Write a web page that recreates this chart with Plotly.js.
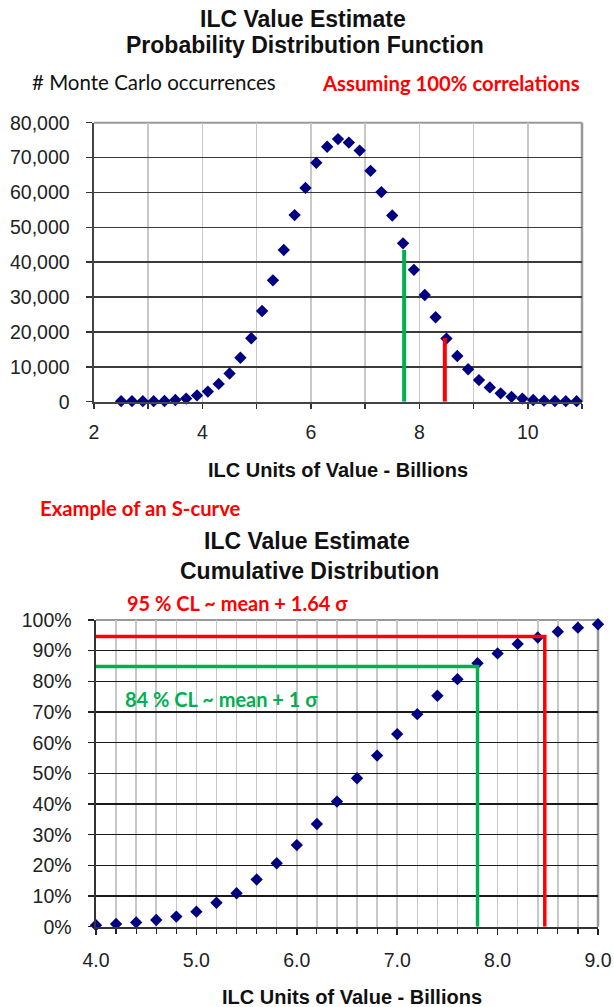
<!DOCTYPE html>
<html>
<head>
<meta charset="utf-8">
<script src="https://cdn.plot.ly/plotly-3.0.1.min.js"></script>
<style>html,body{margin:0;padding:0;background:#fff;}#chart{width:614px;height:1007px;}</style>
</head>
<body>
<div id="chart"></div>
<script>
// ---------- data: Probability Distribution Function ----------
const pdfValues = [2.5, 2.7, 2.9, 3.1, 3.3, 3.5, 3.7, 3.9, 4.1, 4.3, 4.5, 4.7, 4.9, 5.1, 5.3, 5.5, 5.7, 5.9, 6.1, 6.3, 6.5,
                   6.7, 6.9, 7.1, 7.3, 7.5, 7.7, 7.9, 8.1, 8.3, 8.5, 8.7, 8.9, 9.1, 9.3, 9.5, 9.7, 9.9, 10.1, 10.3, 10.5, 10.7, 10.9];
const pdfCounts = [150, 150, 150, 150, 200, 500, 900, 1800, 2900, 5100, 8100, 12600, 18200, 26000, 34800, 43500, 53500, 61300, 68500, 73100, 75300,
                   74300, 72000, 66200, 60100, 53400, 45400, 37800, 30600, 24200, 18100, 13100, 9300, 6200, 4100, 2400, 1400, 900, 500, 300, 200, 150, 150];
const pdfClX = [7.72, 8.47];
const pdfClCounts = [43500, 18300];
const pdfXTickVals = [2, 3, 4, 5, 6, 7, 8, 9, 10, 11];
const pdfXTickText = ["2", "", "4", "", "6", "", "8", "", "10", ""];

// ---------- data: Cumulative Distribution ----------
const cdfValues = [4.0, 4.2, 4.4, 4.6, 4.8, 5.0, 5.2, 5.4, 5.6, 5.8, 6.0, 6.2, 6.4, 6.6, 6.8, 7.0, 7.2, 7.4, 7.6, 7.8, 8.0, 8.2, 8.4, 8.6, 8.8, 9.0];
const cdfPercent = [0.5, 0.9, 1.4, 2.2, 3.3, 4.9, 7.8, 10.9, 15.4, 20.7, 26.6, 33.5, 40.8, 48.4, 55.8, 62.8, 69.3, 75.3, 80.7, 85.9, 89.1, 92.2, 94.3, 96.2, 97.5, 98.6];
const cl84 = {x: 7.8, pct: 84.8};
const cl95 = {x: 8.47, pct: 94.6};
const cdfStartX = 4.0;

// ---------- styling ----------
const navy = '#000080', green = '#00b050', red = '#ff0000';
const arial = 'Liberation Sans, Arial, sans-serif';
const calibri = 'Lato, Carlito, Calibri, sans-serif';
const W = 614, H = 1007;
const px = v => v / W;
const py = v => (H - v) / H;

const traces = [
  {x: pdfValues, y: pdfCounts, xaxis: 'x', yaxis: 'y', type: 'scatter', mode: 'markers',
   marker: {symbol: 'diamond', size: 9.5, color: navy}, cliponaxis: false, hoverinfo: 'x+y'},
  {x: [pdfClX[0], pdfClX[0]], y: [0, pdfClCounts[0]], xaxis: 'x', yaxis: 'y', type: 'scatter', mode: 'lines',
   line: {color: green, width: 4}, hoverinfo: 'skip'},
  {x: [pdfClX[1], pdfClX[1]], y: [0, pdfClCounts[1]], xaxis: 'x', yaxis: 'y', type: 'scatter', mode: 'lines',
   line: {color: red, width: 4}, hoverinfo: 'skip'},
  {x: cdfValues, y: cdfPercent, xaxis: 'x2', yaxis: 'y2', type: 'scatter', mode: 'markers',
   marker: {symbol: 'diamond', size: 9.5, color: navy}, cliponaxis: false, hoverinfo: 'x+y'},
  {x: [cdfStartX, cl84.x, cl84.x], y: [cl84.pct, cl84.pct, 0], xaxis: 'x2', yaxis: 'y2', type: 'scatter', mode: 'lines',
   line: {color: green, width: 3.5}, hoverinfo: 'skip'},
  {x: [cdfStartX, cl95.x, cl95.x], y: [cl95.pct, cl95.pct, 0], xaxis: 'x2', yaxis: 'y2', type: 'scatter', mode: 'lines',
   line: {color: red, width: 3.5}, hoverinfo: 'skip'}
];

const tickFont = {family: arial, size: 19.5, color: '#222'};

const layout = {
  width: W, height: H, margin: {l: 0, r: 0, t: 0, b: 0},
  paper_bgcolor: '#fff', plot_bgcolor: '#fff', showlegend: false,
  xaxis: {domain: [px(94), px(582)], range: [2, 11], anchor: 'y',
    tickmode: 'array', tickvals: pdfXTickVals, ticktext: pdfXTickText,
    ticks: 'outside', ticklen: 5, tickwidth: 1.5, tickcolor: '#333',
    showline: true, linecolor: '#444', linewidth: 2,
    showgrid: true, gridcolor: '#c8c8c8', gridwidth: 1.5, zeroline: false,
    tickfont: tickFont, ticklabelstandoff: 7, fixedrange: true},
  yaxis: {domain: [py(401.7), py(122.7)], range: [0, 80000], anchor: 'x',
    dtick: 10000, tickformat: ',d',
    ticks: 'outside', ticklen: 6, tickwidth: 1.5, tickcolor: '#333',
    showline: true, linecolor: '#444', linewidth: 2.5,
    showgrid: true, gridcolor: '#3a3a3a', gridwidth: 1.5, zeroline: false,
    tickfont: tickFont, ticklabelstandoff: 12, fixedrange: true},
  xaxis2: {domain: [px(96), px(598)], range: [4, 9], anchor: 'y2',
    dtick: 1, tick0: 4, tickformat: '.1f',
    ticks: 'outside', ticklen: 6, tickwidth: 1.5, tickcolor: '#222',
    minor: {dtick: 0.2, ticks: 'outside', ticklen: 5, tickwidth: 1.2, tickcolor: '#222', showgrid: true, gridcolor: '#c8c8c8', gridwidth: 1.5},
    showline: true, linecolor: '#333', linewidth: 2,
    showgrid: true, gridcolor: '#c8c8c8', gridwidth: 1.5, zeroline: false,
    tickfont: tickFont, ticklabelstandoff: 9, fixedrange: true},
  yaxis2: {domain: [py(926.7), py(620)], range: [0, 100], anchor: 'x2',
    dtick: 10, ticksuffix: '%',
    ticks: 'outside', ticklen: 6, tickwidth: 1.5, tickcolor: '#222',
    showline: true, linecolor: '#333', linewidth: 2.5,
    showgrid: true, gridcolor: '#1a1a1a', gridwidth: 1.5, zeroline: false,
    tickfont: tickFont, ticklabelstandoff: 12, fixedrange: true},
  shapes: [
    {type: 'line', xref: 'x domain', yref: 'y domain', x0: 0, x1: 1, y0: 1, y1: 1, line: {color: '#999', width: 2}, layer: 'below'},
    {type: 'line', xref: 'x domain', yref: 'y domain', x0: 1, x1: 1, y0: 0, y1: 1, line: {color: '#999', width: 2.5}, layer: 'below'},
    {type: 'line', xref: 'x2 domain', yref: 'y2 domain', x0: 0, x1: 1, y0: 1, y1: 1, line: {color: '#999', width: 2}, layer: 'below'},
    {type: 'line', xref: 'x2 domain', yref: 'y2 domain', x0: 1, x1: 1, y0: 0, y1: 1, line: {color: '#999', width: 2.5}, layer: 'below'}
  ],
  annotations: [
    {text: '<b>ILC Value Estimate</b>', x: px(303), y: py(19)},
    {text: '<b>Probability Distribution Function</b>', x: px(305), y: py(45)},
    {text: '# Monte Carlo occurrences', x: px(30), y: py(82), xanchor: 'left', font: {family: calibri, size: 20.5, color: '#111'}},
    {text: '<b>Assuming 100% correlations</b>', x: px(320), y: py(83), xanchor: 'left', font: {family: calibri, size: 20.3, color: red}},
    {text: '<b>ILC Units of Value - Billions</b>', x: px(338), y: py(470), font: {family: arial, size: 20, color: '#111'}},
    {text: '<b>Example of an S-curve</b>', x: px(38), y: py(508), xanchor: 'left', font: {family: calibri, size: 20.3, color: red}},
    {text: '<b>ILC Value Estimate</b>', x: px(307), y: py(541)},
    {text: '<b>Cumulative Distribution</b>', x: px(309), y: py(571)},
    {text: '<b>95 % CL ~ mean + 1.64 σ</b>', x: px(125), y: py(603), xanchor: 'left', font: {family: calibri, size: 20, color: red}},
    {text: '<b>84 % CL ~ mean + 1 σ</b>', x: px(123), y: py(699), xanchor: 'left', font: {family: calibri, size: 20, color: green}},
    {text: '<b>ILC Units of Value - Billions</b>', x: px(352), y: py(997), font: {family: arial, size: 20, color: '#111'}}
  ].map(a => Object.assign({xref: 'paper', yref: 'paper', showarrow: false, xanchor: 'center', yanchor: 'middle',
                            font: {family: arial, size: 23, color: '#111'}}, a))
};

Plotly.newPlot('chart', traces, layout, {displayModeBar: false, staticPlot: true});
</script>
</body>
</html>
